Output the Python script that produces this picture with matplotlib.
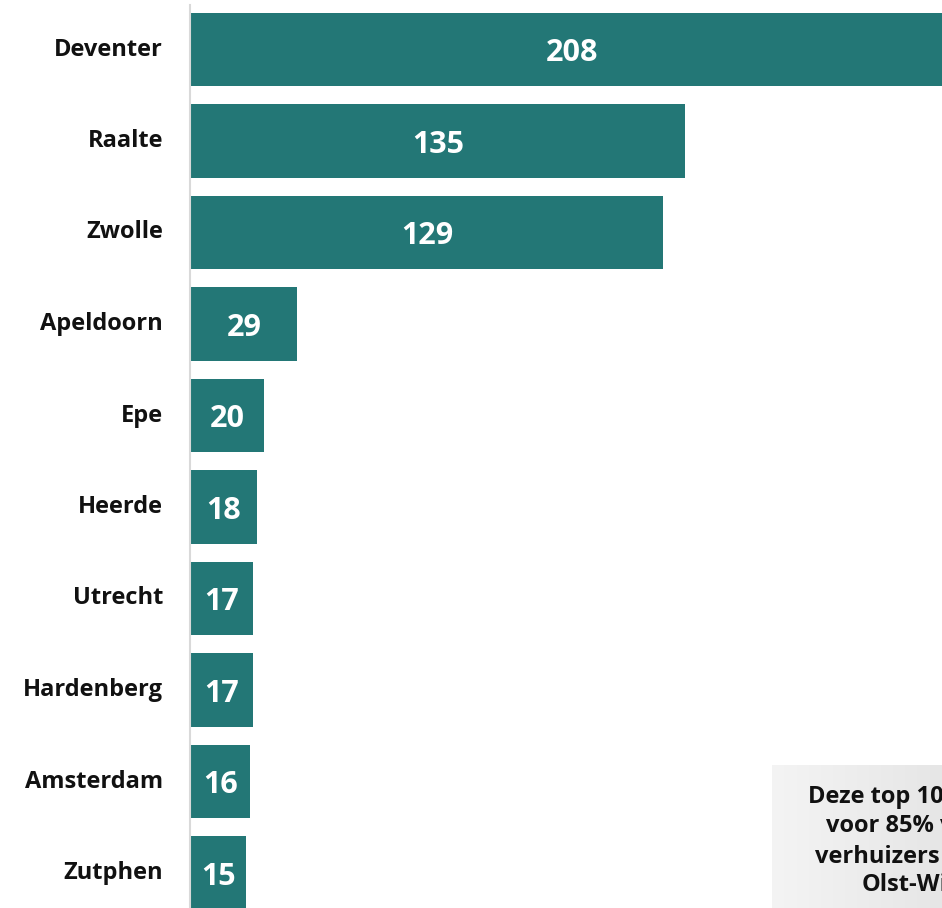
import matplotlib.pyplot as plt
import numpy as np
from matplotlib.lines import Line2D
from matplotlib.colors import LinearSegmentedColormap

# data
cities = ["Deventer", "Raalte", "Zwolle", "Apeldoorn", "Epe", "Heerde",
          "Utrecht", "Hardenberg", "Amsterdam", "Zutphen"]
movers = [208, 135, 129, 29, 20, 18, 17, 17, 16, 15]
note_lines = ["Deze top 10 is goed", "voor 85% van de", "verhuizers vanuit", "Olst-Wijhe"]

TEAL = "#237776"
FONT = "Open Sans"
W, H = 942, 908

fig = plt.figure(figsize=(W / 100, H / 100), dpi=100)
fig.patch.set_facecolor("white")

left = 191 / W
ax = fig.add_axes([left, 0, 1 - left, 1])
y = np.arange(len(cities))
ax.barh(y, movers, height=0.8, color=TEAL)
ax.set_xlim(0, (W - 191) / 3.66)
ax.set_ylim(9 + (H - 873) / 91.5, -49.5 / 91.5)
ax.axis("off")

for yi, v in zip(y, movers):
    ax.text(v / 2, yi + 0.04, str(v), ha="center", va="center", color="white",
            fontsize=22, fontweight="bold", fontfamily=FONT)

# category labels
for yi, name in zip(y, cities):
    yf = 1 - (49.5 + yi * 91.5) / H
    fig.text(163 / W, yf, name, ha="right", va="center", fontsize=17,
             fontweight="bold", fontfamily=FONT, color="#111111")

# vertical axis line
fig.add_artist(Line2D([189.5 / W, 189.5 / W], [0, 1 - 5 / H], color="#d9d9d9", lw=1.5))

# note box with gradient (cut off at the right edge, as in the original)
bx = fig.add_axes([772 / W, 0, (W - 772) / W, (908 - 765) / H])
grad = np.linspace(0, 1, 256).reshape(1, -1)
bx.imshow(grad, cmap=LinearSegmentedColormap.from_list("g", ["#f4f4f4", "#e6e6e6"]),
          aspect="auto", extent=[0, 1, 0, 1])
bx.set_xlim(0, 1)
bx.set_ylim(0, 1)
bx.axis("off")

starts = [808, 826, 815, 862]
ys = [797, 826, 857, 885]
for line, xs, yy in zip(note_lines, starts, ys):
    fig.text(xs / W, 1 - yy / H, line, ha="left", va="center", fontsize=17,
             fontweight="bold", fontfamily=FONT, color="#111111")

fig.savefig("out.png", dpi=100, facecolor="white")
